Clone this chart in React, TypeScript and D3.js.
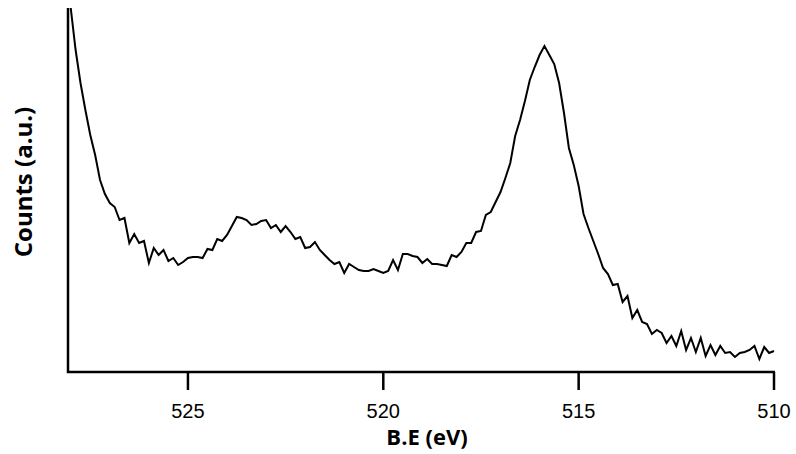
import React from "react";
import * as d3 from "d3";

// Binding energy sampling (eV): starts at 528.0, step 0.125 eV toward lower energy
const startEnergy = 528.0;
const energyStep = 0.125;

// Intensity (arbitrary counts), one per sample
const counts: number[] = [
  364, 322, 289, 262, 237, 217, 192, 178, 169, 165,
  152, 154, 129, 138, 129, 131, 109, 124, 117, 122,
  111, 114, 107, 110, 114, 115, 115, 114, 123, 122,
  133, 131, 137, 146, 155, 154, 152, 147, 148, 151,
  152, 144, 147, 140, 146, 140, 133, 135, 124, 125,
  130, 122, 117, 112, 108, 110, 99, 108, 105, 102,
  101, 101, 103, 101, 99, 101, 112, 102, 118, 118,
  116, 115, 109, 113, 108, 108, 107, 106, 117, 115,
  120, 129, 129, 140, 141, 157, 160, 170, 180, 194,
  209, 236, 252, 271, 292, 305, 317, 326, 317, 308,
  289, 259, 224, 207, 186, 158, 144, 131, 118, 104,
  98, 87, 88, 70, 76, 54, 62, 50, 48, 38,
  42, 39, 29, 36, 26, 41, 22, 34, 20, 34,
  16, 27, 17, 26, 19, 20, 15, 19, 20, 22,
  26, 13, 25, 19, 21,
];

const xTicks = [525, 520, 515, 510];
const xDomain: [number, number] = [528.07, 510];
const yDomain: [number, number] = [0, 364];

const xTitle = "B.E (eV)";
const yTitle = "Counts (a.u.)";

export default function App() {
  const W = 796;
  const H = 454;
  const left = 68;
  const right = 774;
  const top = 8;
  const bottom = 372;

  const x = d3.scaleLinear().domain(xDomain).range([left, right]);
  const y = d3.scaleLinear().domain(yDomain).range([bottom, top]);

  const data = counts.map((c, i) => ({ e: startEnergy - i * energyStep, c }));
  const line = d3
    .line<{ e: number; c: number }>()
    .x((d) => x(d.e))
    .y((d) => y(d.c));

  return (
    <svg
      width={W}
      height={H}
      style={{ position: "absolute", left: 0, top: 0, background: "#fff" }}
    >
      <path
        d={line(data) || ""}
        fill="none"
        stroke="#000"
        strokeWidth={2}
        strokeLinejoin="miter"
      />
      {/* axes */}
      <path
        d={`M${left},${top}V${bottom}H${right + 1}`}
        fill="none"
        stroke="#000"
        strokeWidth={2.5}
      />
      {xTicks.map((t) => (
        <g key={t}>
          <line
            x1={x(t)}
            x2={x(t)}
            y1={bottom}
            y2={bottom + 18}
            stroke="#000"
            strokeWidth={2.5}
          />
          <text
            x={x(t)}
            y={418}
            textAnchor="middle"
            fontFamily="Liberation Sans, Arial, sans-serif"
            fontSize={20}
            fill="#000"
          >
            {t}
          </text>
        </g>
      ))}
      <text
        x={427}
        y={445}
        textAnchor="middle"
        fontFamily="'Open Sans', sans-serif"
        fontWeight="bold"
        fontSize={22}
        fill="#000"
      >
        {xTitle}
      </text>
      <text
        transform={`translate(32,182) rotate(-90)`}
        textAnchor="middle"
        fontFamily="'Open Sans', sans-serif"
        fontWeight="bold"
        fontSize={24}
        fill="#000"
      >
        {yTitle}
      </text>
    </svg>
  );
}
